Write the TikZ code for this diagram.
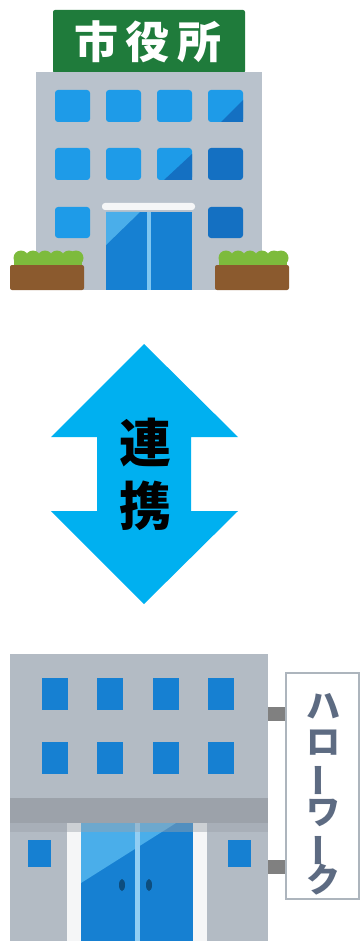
\documentclass[tikz,border=0pt]{standalone}
\usepackage{fontspec}
\newfontfamily\jpfont{Noto Sans CJK JP}
\definecolor{signgreen}{HTML}{1F7B3B}
\definecolor{wallgray}{HTML}{B9C2CC}
\definecolor{winblue}{HTML}{1E9BE8}
\definecolor{windark}{HTML}{1470C2}
\definecolor{doorblue}{HTML}{1680D2}
\definecolor{doorlight}{HTML}{4AAEEA}
\definecolor{soil}{HTML}{8B5A2E}
\definecolor{leaf}{HTML}{7DBB3C}
\definecolor{linkblue}{HTML}{00B0F0}
\definecolor{bandgray}{HTML}{9CA2AA}
\definecolor{hwtext}{HTML}{5D6B82}
\usetikzlibrary{positioning}

\begin{document}
\begin{tikzpicture}[x=1pt,y=-1pt,
  win/.style={fill=winblue,rounded corners=3pt},
  darkwin/.style={fill=windark,rounded corners=3pt},
  hwwin/.style={fill=doorblue},
  jp/.style={font=\jpfont\bfseries,inner sep=0pt},
  hwchar/.style={jp,text=hwtext,font=\jpfont\bfseries\fontsize{34}{34}\selectfont}]
\useasboundingbox (0,0) rectangle (361,941);

% city hall
\fill[signgreen,rounded corners=2pt] (53,10) rectangle (245,73);
\node[jp,text=white,font=\jpfont\bfseries\fontsize{44}{44}\selectfont] (hallname) at (148,42) {市\,役\,所};
\fill[wallgray] (36,72) rectangle (262,290);
\foreach \y in {90,148}
  \foreach \x in {55,106,157}
    \fill[win] (\x,\y) rectangle ++(35,32);
\fill[win] (208,90) rectangle ++(35,32);
\fill[windark] (243,100) -- (243,122) -- (221,122) -- cycle;
\fill[darkwin] (208,148) rectangle ++(35,32);
\fill[windark] (192,154) -- (192,180) -- (164,180) -- cycle;
\fill[win] (55,207) rectangle ++(35,31);
\fill[darkwin] (208,207) rectangle ++(35,31);
% entrance
\fill[white!85!wallgray,rounded corners=3pt] (102,203) rectangle (195,210);
\fill[doorblue] (106,212) rectangle (192,290);
\fill[doorlight] (106,212) -- (140,212) -- (106,245) -- cycle;
\fill[doorlight!70!white] (147,212) rectangle (151,290);
% planters
\foreach \px in {10,215} {
  \foreach \bx in {11,23,35,47,59,66}
    \fill[leaf] (\px+\bx,258) circle (7.5);
  \fill[leaf] (\px+4,257) rectangle (\px+72,266);
  \fill[soil,rounded corners=2pt] (\px,265) rectangle (\px+74,290);
}

% link arrow
\fill[linkblue] (144,344) -- (238,437) -- (191,437) -- (191,511) -- (238,511)
  -- (144,604) -- (51,511) -- (97,511) -- (97,437) -- (51,437) -- cycle;
\node[jp,font=\jpfont\bfseries\fontsize{52}{52}\selectfont] (ren) at (145,443) {連};
\node[jp,font=\jpfont\bfseries\fontsize{52}{52}\selectfont] (kei) at (145,506) {携};

% hello work
\fill[wallgray!90!gray] (10,654) rectangle (268,941);
\foreach \y in {678,742}
  \foreach \x in {42,97,153,208}
    \fill[hwwin] (\x,\y) rectangle ++(26,32);
\fill[bandgray] (10,798) rectangle (268,823);
\fill[white!85!wallgray] (67,823) rectangle (81,941);
\fill[white!85!wallgray] (193,823) rectangle (207,941);
\fill[hwwin] (28,840) rectangle (51,867);
\fill[hwwin] (228,840) rectangle (251,867);
\fill[doorblue] (81,823) rectangle (193,941);
\fill[doorlight] (81,823) -- (176,823) -- (81,883) -- cycle;
\fill[doorlight!60!white] (135,823) rectangle (140,941);
\fill[bandgray,opacity=0.45] (10,823) rectangle (268,832);
\fill[doorblue!60!black] (122,885) ellipse (3 and 6);
\fill[doorblue!60!black] (149,885) ellipse (3 and 6);
% signboard
\fill[gray] (268,707) rectangle (285,721);
\fill[gray] (268,860) rectangle (285,874);
\draw[wallgray!80!gray,line width=2pt,fill=white] (286,673) rectangle (359,899);
\node[hwchar] (ha) at (323,706) {ハ};
\node[hwchar] (ro) at (323,743) {ロ};
\node[hwchar,rotate=90] (bar1) at (323,780) {ー};
\node[hwchar] (wa) at (323,813) {ワ};
\node[hwchar,rotate=90] (bar2) at (323,850) {ー};
\node[hwchar] (ku) at (323,880) {ク};
\end{tikzpicture}
\end{document}
